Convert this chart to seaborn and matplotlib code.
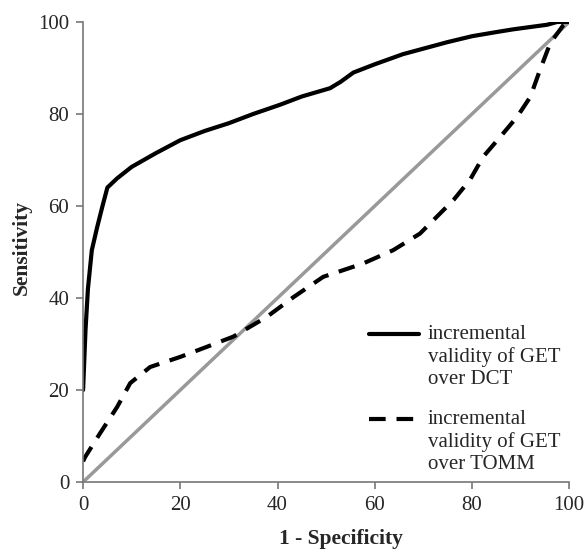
import matplotlib
matplotlib.use("Agg")
import matplotlib.pyplot as plt
import matplotlib.transforms as mtransforms
from matplotlib.legend_handler import HandlerLine2D
import seaborn as sns

dct_x = [0, 0.5, 1, 1.8, 2.9, 4, 5, 7, 10, 15, 20, 25, 30, 35, 40.5, 45, 50.8, 53, 55.6, 60, 65.8, 70, 74.9, 80, 85, 88.5, 92, 95.5, 97.5, 100]
dct_y = [20, 33, 42, 50.4, 55.4, 60, 64, 66, 68.5, 71.5, 74.3, 76.3, 78, 80, 82, 83.8, 85.6, 87, 89, 90.8, 93, 94.2, 95.6, 96.9, 97.8, 98.4, 98.9, 99.4, 100, 100]

tomm_x = [0, 0.4, 3.5, 7, 9.7, 13.8, 20, 25.5, 30.9, 37.8, 43.3, 49.4, 57.6, 63.8, 69.3, 72.8, 76.2, 79.6, 82.3, 85.8, 89.3, 92, 94, 96.1, 98.8, 100]
tomm_y = [4.5, 5.4, 10.6, 16.3, 21.5, 25, 27.2, 29.4, 31.6, 35.9, 40.2, 44.6, 47.5, 50.4, 54, 57.7, 61.3, 65.7, 70.7, 75, 79.4, 83.7, 89.6, 95.4, 99.3, 100]

ref_x = [0, 100]
ref_y = [0, 100]

labels = ["incremental\nvalidity of GET\nover DCT", "incremental\nvalidity of GET\nover TOMM"]

sns.set_style("white")
plt.rcParams['font.family'] = ['Liberation Serif', 'DejaVu Serif']

fig = plt.figure(figsize=(5.85, 5.49), dpi=100)
ax = fig.add_axes([0.142, 0.122, 0.831, 0.838])

sns.lineplot(x=ref_x, y=ref_y, ax=ax, color="#999999", lw=2.5)
sns.lineplot(x=dct_x, y=dct_y, ax=ax, color="black", lw=3, label=labels[0])
sns.lineplot(x=tomm_x, y=tomm_y, ax=ax, color="black", lw=3, label=labels[1])
ax.lines[-1].set_linestyle((0, (4, 2.6)))

ax.set_xlim(0, 100)
ax.set_ylim(0, 100)
ax.set_xticks([0, 20, 40, 60, 80, 100])
ax.set_yticks([0, 20, 40, 60, 80, 100])
ax.tick_params(axis='both', which='both', direction='out', length=5, width=1.2,
               color="#777777", labelsize=15, bottom=True, left=True, pad=5)
for s in ['top', 'right']:
    ax.spines[s].set_visible(False)
for s in ['left', 'bottom']:
    ax.spines[s].set_color("#777777")
    ax.spines[s].set_linewidth(1.2)

ax.set_xlabel("1 - Specificity", fontsize=15.5, fontweight='bold', va='top')
ax.xaxis.set_label_coords(0.53, -0.103)
ax.set_ylabel("Sensitivity", fontsize=15.5, fontweight='bold', va='center')
ax.yaxis.set_label_coords(-0.127, 0.51)

LINE_SHIFT = 16.5  # points: align handle with first text line


class TopHandler(HandlerLine2D):
    def create_artists(self, legend, orig_handle, xdescent, ydescent, width,
                       height, fontsize, trans):
        artists = super().create_artists(legend, orig_handle, xdescent, ydescent,
                                         width, height, fontsize, trans)
        shift = mtransforms.Affine2D().translate(0, LINE_SHIFT * legend.figure.dpi / 72.0)
        for a in artists:
            a.set_transform(a.get_transform() + shift)
        return artists


handles, lbls = ax.get_legend_handles_labels()
leg = ax.legend(handles, lbls, loc='lower right', bbox_to_anchor=(1.012, -0.015), frameon=False,
                fontsize=15, handlelength=2.4, handletextpad=0.45, labelspacing=1.0,
                borderaxespad=0.3, handler_map={h: TopHandler() for h in handles})
for t in leg.get_texts():
    t.set_linespacing(1.22)
fig.savefig("out.png", dpi=100)
